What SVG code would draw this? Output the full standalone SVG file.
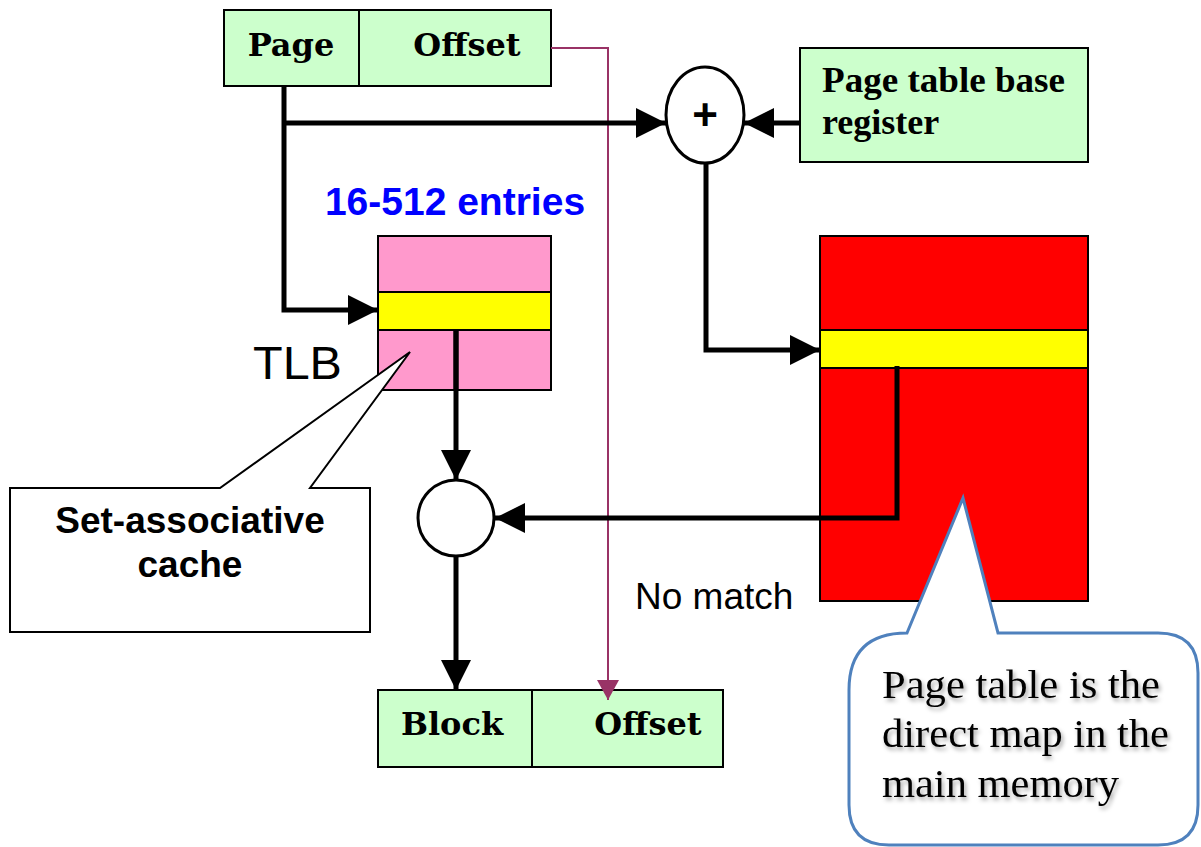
<svg xmlns="http://www.w3.org/2000/svg" width="1201" height="847" viewBox="0 0 1201 847">
<style>
.green{fill:#ccffcc;stroke:#000;stroke-width:2}
.slab{font-family:"DejaVu Serif","Liberation Serif",serif;font-weight:bold;font-size:32px;fill:#000}
.tnr{font-family:"Liberation Serif",serif;fill:#000}
.sans{font-family:"Liberation Sans",Arial,sans-serif;fill:#000}
.wire{fill:none;stroke:#000;stroke-width:5}
.thin{fill:none;stroke:#993366;stroke-width:2}
</style>
<defs>
<marker id="ah" markerUnits="userSpaceOnUse" markerWidth="30" markerHeight="30" refX="30" refY="15" orient="auto">
<path d="M0,0 L30,15 L0,30 Z" fill="#000"/>
</marker>
<marker id="ahm" markerUnits="userSpaceOnUse" markerWidth="22" markerHeight="22" refX="20" refY="11" orient="auto">
<path d="M0,0 L20,11 L0,22 Z" fill="#993366"/>
</marker>
<filter id="sh" x="-10%" y="-10%" width="120%" height="130%">
<feDropShadow dx="2" dy="3" stdDeviation="2" flood-color="#000" flood-opacity="0.35"/>
</filter>
</defs>

<g id="virtual-address">
<rect class="green" x="224" y="10" width="327" height="76"/>
<line x1="359" y1="10" x2="359" y2="86" stroke="#000" stroke-width="2"/>
<text class="slab" x="291" y="56" text-anchor="middle">Page</text>
<text class="slab" x="467" y="56" text-anchor="middle">Offset</text>
</g>

<g id="adder">
<ellipse cx="705" cy="115" rx="39" ry="48" fill="#fff" stroke="#000" stroke-width="3"/>
<text class="sans" x="705" y="130" text-anchor="middle" font-size="44" font-weight="bold">+</text>
</g>

<g id="ptbr">
<rect class="green" x="800" y="48" width="288" height="114"/>
<text class="tnr" x="822" y="92" font-size="36" font-weight="bold" textLength="243" lengthAdjust="spacingAndGlyphs">Page table base</text>
<text class="tnr" x="822" y="134" font-size="36" font-weight="bold">register</text>
</g>

<g id="tlb">
<text class="sans" x="455" y="215" text-anchor="middle" font-size="39" font-weight="bold" style="fill:#0000ff">16-512 entries</text>
<rect x="378" y="236" width="173" height="154" fill="#ff99cc" stroke="#000" stroke-width="2"/>
<rect x="378" y="292" width="173" height="38" fill="#ffff00" stroke="#000" stroke-width="2"/>
<line class="wire" x1="456" y1="330" x2="456" y2="390"/>
<text class="sans" x="253" y="379" font-size="46" textLength="89" lengthAdjust="spacingAndGlyphs">TLB</text>
</g>

<g id="page-table">
<rect x="820" y="236" width="268" height="365" fill="#ff0000" stroke="#000" stroke-width="2"/>
<rect x="820" y="330" width="268" height="38" fill="#ffff00" stroke="#000" stroke-width="2"/>
</g>

<g id="match">
<circle cx="456" cy="518" r="38" fill="#fff" stroke="#000" stroke-width="3"/>
</g>

<g id="no-match-label">
<text class="sans" x="635" y="609" font-size="37">No match</text>
</g>

<g id="physical-address">
<rect class="green" x="378" y="690" width="345" height="77"/>
<line x1="532" y1="690" x2="532" y2="767" stroke="#000" stroke-width="2"/>
<text class="slab" x="452" y="735" text-anchor="middle">Block</text>
<text class="slab" x="648" y="735" text-anchor="middle">Offset</text>
</g>

<g id="set-assoc-callout">
<path d="M10,488 L220,488 L410,352 L310,488 L370,488 L370,632 L10,632 Z" fill="#fff" stroke="#000" stroke-width="2"/>
<text class="sans" x="190" y="533" text-anchor="middle" font-size="37" font-weight="bold">Set-associative</text>
<text class="sans" x="190" y="577" text-anchor="middle" font-size="37" font-weight="bold">cache</text>
</g>

<g id="page-table-callout">
<path d="M907,633 L963,498 L998,633 L1158,633 Q1198,633 1198,673 L1198,805 Q1198,845 1158,845 L889,845 Q849,845 849,805 L849,690 Q849,633 907,633 Z" fill="#fff" stroke="#4f81bd" stroke-width="3"/>
<g filter="url(#sh)">
<text class="tnr" x="882" y="698" font-size="40" textLength="278" lengthAdjust="spacingAndGlyphs">Page table is the</text>
<text class="tnr" x="882" y="747" font-size="40" textLength="287" lengthAdjust="spacingAndGlyphs">direct map in the</text>
<text class="tnr" x="882" y="797" font-size="40" textLength="237" lengthAdjust="spacingAndGlyphs">main memory</text>
</g>
</g>

<g id="connectors">
<polyline class="thin" points="551,48 608,48 608,700" marker-end="url(#ahm)"/>
<polyline class="wire" points="284,86 284,310 378,310" marker-end="url(#ah)"/>
<line class="wire" x1="284" y1="123" x2="666" y2="123" marker-end="url(#ah)"/>
<line class="wire" x1="800" y1="123" x2="744" y2="123" marker-end="url(#ah)"/>
<polyline class="wire" points="706,163 706,350 820,350" marker-end="url(#ah)"/>
<line class="wire" x1="456" y1="330" x2="456" y2="480" marker-end="url(#ah)"/>
<line class="wire" x1="456" y1="556" x2="456" y2="690" marker-end="url(#ah)"/>
<polyline class="wire" points="897,366 897,518 495,518" marker-end="url(#ah)"/>
</g>
</svg>
